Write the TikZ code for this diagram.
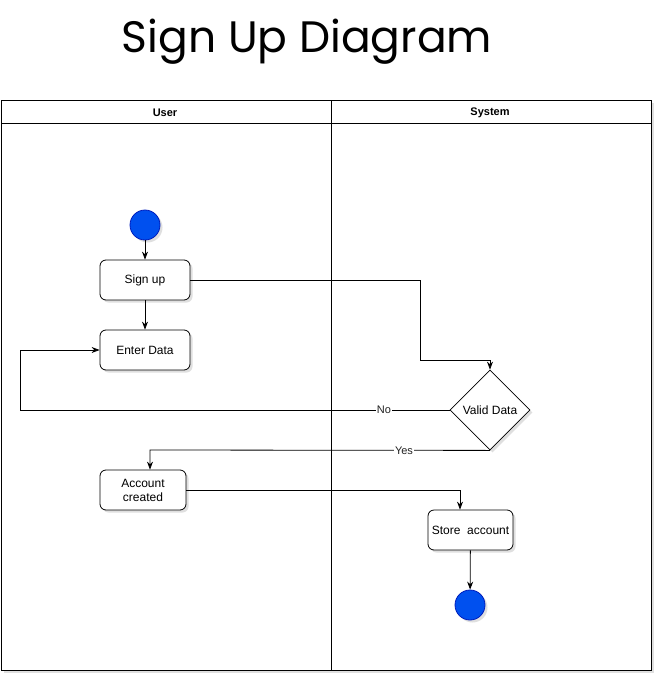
\documentclass[tikz,border=0pt]{standalone}
\usepackage{fontspec}
\setmainfont{Liberation Sans}
\newfontfamily\titlefont{Poppins}
\usepackage{tikz}
\usetikzlibrary{arrows.meta,shapes.geometric,shadows}
\definecolor{sblue}{HTML}{0050EF}
\definecolor{sdblue}{HTML}{001DBC}
\definecolor{sgray}{HTML}{222222}

\begin{document}
\begin{tikzpicture}[x=1pt,y=-1pt,
    font=\fontsize{12}{14}\selectfont,
    shd/.style={drop shadow={shadow xshift=2.5pt,shadow yshift=-2.5pt,opacity=0.25,fill=gray}},
    act/.style={draw,fill=white,rounded corners=6pt,line width=0.8pt,
                minimum height=40pt,align=center,inner sep=2pt,shd},
    dot/.style={circle,draw=sdblue,fill=sblue,line width=0.8pt,
                minimum size=30pt,inner sep=0pt,shd},
    dec/.style={diamond,draw,fill=white,line width=0.8pt,aspect=1,
                minimum size=80pt,inner sep=0pt,shd},
    lane/.style={draw,line width=1pt},
    hdr/.style={font=\fontsize{11}{13}\selectfont\bfseries},
    arr/.style={-{Stealth[length=8pt,width=6pt]},line width=0.8pt},
    lbl/.style={fill=white,inner sep=1pt,font=\fontsize{11}{13}\selectfont,text=sgray}
  ]
    \useasboundingbox (0,0) rectangle (662,682);

    % Title
    \node[font=\titlefont\fontsize{44}{50}\selectfont] (title) at (307,42) {Sign Up Diagram};

    % Swimlanes
    \draw[lane,fill=white,shd] (1,101) rectangle (651,670);
    \draw[lane] (1,124) -- (651,124);
    \draw[lane] (331,101) -- (331,670);
    \node[hdr] (user) at (165,113) {User};
    \node[hdr] (system) at (490,113) {System};

    % Activities
    \node[dot] (start) at (145,225) {};
    \node[act,minimum width=90pt] (signup) at (145,280) {Sign up};
    \node[act,minimum width=90pt] (enter) at (145,350) {Enter Data};
    \node[dec] (valid) at (490,410) {Valid Data};
    \node[act,minimum width=86pt] (created) at (143,490) {Account\\created};
    \node[act,minimum width=85pt] (store) at (470.5,530) {Store\ \ account};
    \node[dot] (end) at (470,605) {};

    % Arrows
    \draw[arr] (start) -- (signup);
    \draw[arr] (signup) -- (enter);
    \draw[arr] (signup.east) -| (420,360) -| (valid.north);
    \draw[arr] (valid.west) -- node[pos=0.153,lbl] {No} (20,410) |- (enter.west);
    \draw[arr] (valid.south) -- node[pos=0.253,lbl] {Yes} (150,450) -- (created.north -| 150,0);
    \draw[arr] (created.east) -| (store.north -| 460,0);
    \draw[arr] (store) -- (end);

  \end{tikzpicture}
\end{document}
